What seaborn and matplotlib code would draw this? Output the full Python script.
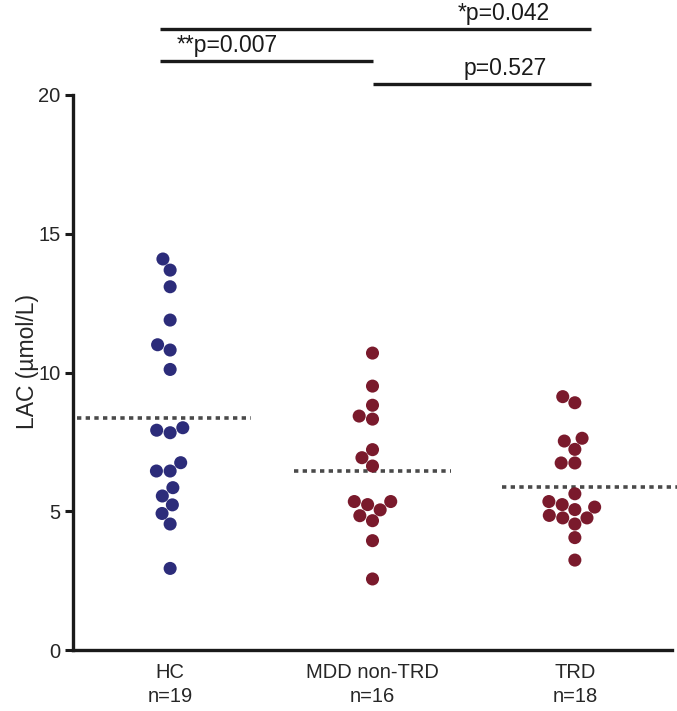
import numpy as np
import pandas as pd
import matplotlib
matplotlib.use("Agg")
import matplotlib.pyplot as plt
import seaborn as sns

# 数据：三组 LAC 浓度 (µmol/L)
groups = ["HC", "MDD non-TRD", "TRD"]
tick_labels = ["HC\nn=19", "MDD non-TRD\nn=16", "TRD\nn=18"]
hc = [14.09, 13.69, 13.09, 11.89, 11.0, 10.81, 10.11, 8.01, 7.92, 7.83,
      6.75, 6.45, 6.45, 5.85, 5.55, 5.23, 4.92, 4.54, 2.94]
mdd = [10.70, 9.51, 8.82, 8.43, 8.32, 7.22, 6.93, 6.63, 5.35, 5.35,
       5.24, 5.05, 4.84, 4.66, 3.94, 2.56]
trd = [9.13, 8.91, 7.63, 7.53, 7.23, 6.74, 6.74, 5.63, 5.35, 5.24,
       5.15, 5.06, 4.85, 4.76, 4.76, 4.54, 4.05, 3.24]
means = [8.37, 6.44, 5.89]
# 两两比较 (组1, 组2, 文字)
comparisons = [(0, 2, "*p=0.042"), (0, 1, "**p=0.007"), (1, 2, "p=0.527")]
colors = ["#2c2c7a", "#7a1a2c", "#7a1a2c"]

data = pd.DataFrame({
    "group": ["HC"] * len(hc) + ["MDD non-TRD"] * len(mdd) + ["TRD"] * len(trd),
    "LAC": hc + mdd + trd,
})

sns.set_style("white")
plt.rcParams['font.family'] = ['Liberation Sans', 'DejaVu Sans']

fig = plt.figure(figsize=(6.77, 7.11), dpi=100)
ax = fig.add_axes([73 / 677, 61 / 711, 599 / 677, 555 / 711])

sns.swarmplot(data=data, x="group", y="LAC", hue="group", order=groups,
              palette=dict(zip(groups, colors)), size=9.4, legend=False, ax=ax)

# 均值虚线
spans = [(-0.46, 0.40), (-0.39, 0.39), (-0.36, 0.52)]
for i, (m, (lo, hi)) in enumerate(zip(means, spans)):
    ax.plot([i + lo, i + hi], [m, m], color="#4a4a4a", lw=2.6,
            linestyle=(0, (1.2, 1.2)), dash_capstyle="butt", clip_on=False, zorder=1)

# 显著性标注
bar_y = [22.38, 21.23, 20.40]
text_x = [1.65, 0.28, 1.655]
for (a, b, txt), y, tx in zip(comparisons, bar_y, text_x):
    x0 = a - 0.05 if a == 0 else a
    x1 = b + 0.08 if b == 2 else b
    ax.plot([x0, x1], [y, y], color="#1a1a1a",
            lw=2.4, clip_on=False, solid_capstyle="butt")
    ax.text(tx, y + 0.13, txt, ha="center", va="bottom", fontsize=16.5,
            color="#1a1a1a")

ax.set_xlim(-0.48, 2.48)
ax.set_ylim(0, 20)
ax.set_yticks([0, 5, 10, 15, 20])
ax.set_xticks(range(3))
ax.set_xticklabels(tick_labels, fontsize=14.5, linespacing=1.4)
ax.tick_params(axis="y", labelsize=14.5, length=6, width=2.2, color="#1a1a1a",
               pad=3, left=True)
ax.tick_params(axis="x", length=0, pad=9)
ax.set_xlabel("")
ax.set_ylabel("LAC (µmol/L)", fontsize=16.5)
ax.yaxis.set_label_coords(-0.056, 0.52)

for s in ["top", "right"]:
    ax.spines[s].set_visible(False)
for s in ["left", "bottom"]:
    ax.spines[s].set_linewidth(2.4)
    ax.spines[s].set_color("#1a1a1a")

fig.savefig("out.png", dpi=100)
